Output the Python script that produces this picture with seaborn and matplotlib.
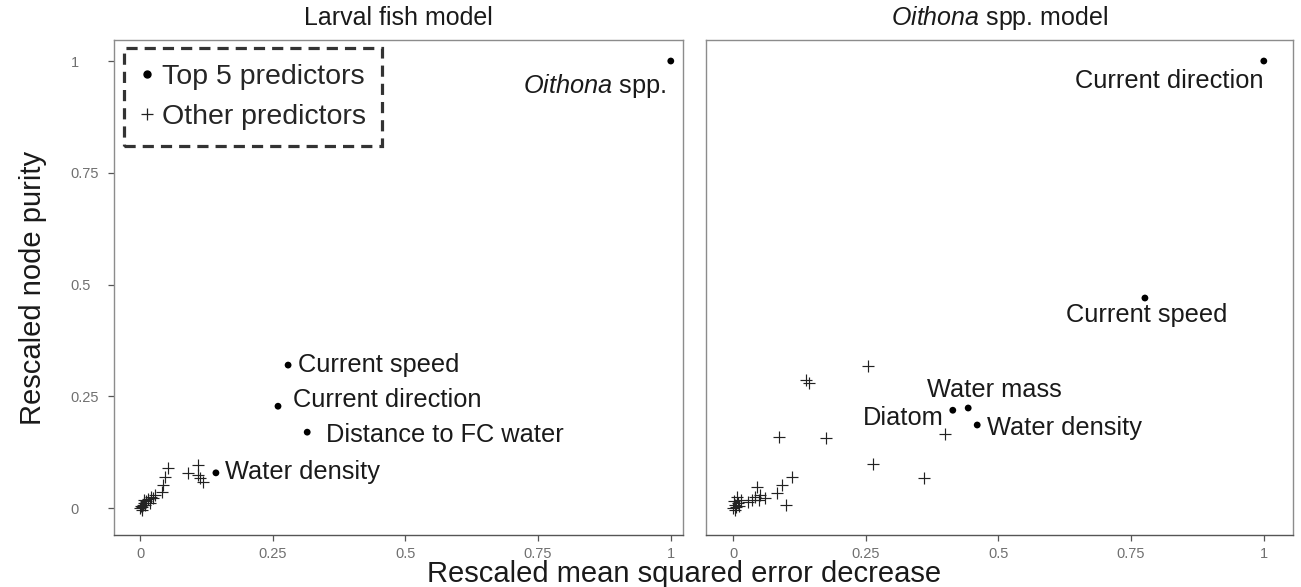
import matplotlib
matplotlib.use("Agg")
import matplotlib.pyplot as plt
import seaborn as sns
import pandas as pd
from matplotlib.lines import Line2D

sns.set_theme(style="white")
plt.rcParams['font.family'] = ['Liberation Sans', 'DejaVu Sans']
plt.rcParams['mathtext.fontset'] = 'custom'
plt.rcParams['mathtext.rm'] = 'Liberation Sans'
plt.rcParams['mathtext.it'] = 'Liberation Sans:italic'

# ---------------- data ----------------
# Larval fish model: top 5 predictors
fish_top_names = [r"$\it{Oithona}$ spp.", "Current speed", "Current direction",
                  "Distance to FC water", "Water density"]
fish_top_x = [1.0, 0.279, 0.260, 0.315, 0.143]
fish_top_y = [1.0, 0.320, 0.228, 0.170, 0.079]
# Larval fish model: other predictors
fish_oth_x = [0.000, 0.002, 0.004, 0.005, 0.007, 0.010, 0.012, 0.015, 0.018, 0.020,
              0.024, 0.028, 0.003, 0.008, 0.041, 0.043, 0.047, 0.053, 0.090, 0.109,
              0.109, 0.113, 0.119]
fish_oth_y = [0.000, 0.004, 0.002, 0.008, 0.012, 0.006, 0.015, 0.020, 0.012, 0.025,
              0.022, 0.030, -0.004, 0.018, 0.036, 0.051, 0.070, 0.089, 0.079, 0.096,
              0.074, 0.067, 0.058]

# Oithona spp. model: top 5 predictors
oit_top_names = ["Current direction", "Current speed", "Water mass", "Diatom", "Water density"]
oit_top_x = [1.0, 0.776, 0.443, 0.414, 0.460]
oit_top_y = [1.0, 0.470, 0.224, 0.219, 0.186]
# Oithona spp. model: other predictors
oit_oth_x = [0.254, 0.137, 0.143, 0.087, 0.175, 0.400, 0.264, 0.360, 0.111, 0.092,
             0.083, 0.100, 0.045, 0.060, 0.041, 0.036, 0.028, 0.008, 0.000, 0.003,
             0.006, 0.010, 0.002, 0.012, 0.004, 0.015, 0.050, 0.048]
oit_oth_y = [0.318, 0.287, 0.280, 0.159, 0.157, 0.165, 0.098, 0.067, 0.070, 0.051,
             0.034, 0.007, 0.047, 0.022, 0.025, 0.018, 0.013, 0.025, 0.000, 0.008,
             0.003, 0.012, 0.016, 0.004, -0.004, 0.018, 0.030, 0.018]

tick_vals = [0, 0.25, 0.5, 0.75, 1]
tick_labels = ["0", "0.25", "0.5", "0.75", "1"]

# label placement (offsets relative to points, in data units) and alignment
fish_lab_dx = [-0.008, 0.018, 0.028, 0.035, 0.017]
fish_lab_dy = [-0.055, 0.000, 0.014, -0.007, 0.001]
fish_lab_ha = ["right", "left", "left", "left", "left"]
oit_lab_dx = [0.000, 0.004, 0.049, -0.017, 0.018]
oit_lab_dy = [-0.045, -0.038, 0.040, -0.018, -0.007]
oit_lab_ha = ["right", "center", "center", "right", "left"]

# ---------------- figure ----------------
W, H = 1301, 587
fig = plt.figure(figsize=(W / 100, H / 100), dpi=100)
ax1 = fig.add_axes([114 / W, (H - 535) / H, 569 / W, 495 / H])
ax2 = fig.add_axes([706 / W, (H - 535) / H, 587 / W, 495 / H])

panels = [
    (ax1, fish_top_names, fish_top_x, fish_top_y, fish_oth_x, fish_oth_y,
     fish_lab_dx, fish_lab_dy, fish_lab_ha, (-0.049, 1.023)),
    (ax2, oit_top_names, oit_top_x, oit_top_y, oit_oth_x, oit_oth_y,
     oit_lab_dx, oit_lab_dy, oit_lab_ha, (-0.051, 1.055)),
]

for ax, names, tx, ty, ox, oy, ldx, ldy, lha, xlim in panels:
    oth = pd.DataFrame({"x": ox, "y": oy})
    top = pd.DataFrame({"x": tx, "y": ty, "name": names})
    sns.scatterplot(data=oth, x="x", y="y", marker="+", s=65, color="#222222",
                    linewidth=0.85, ax=ax, legend=False)
    sns.scatterplot(data=top, x="x", y="y", marker="o", s=24, color="black",
                    edgecolor="none", ax=ax, legend=False)
    for i, row in top.iterrows():
        ax.text(row.x + ldx[i], row.y + ldy[i], row["name"], ha=lha[i], va="center",
                fontsize=18.3, color="#1a1a1a")
    ax.set_xlim(*xlim)
    ax.set_ylim(-0.06, 1.047)
    ax.set_xticks(tick_vals)
    ax.set_xticklabels(tick_labels)
    ax.set_yticks(tick_vals)
    ax.set_yticklabels(tick_labels)
    ax.set_xlabel("")
    ax.set_ylabel("")
    ax.tick_params(axis="both", which="both", length=4.3, width=0.9, color="#555555",
                   labelsize=10.5, labelcolor="#707070", direction="out",
                   bottom=True, left=True)
    ax.tick_params(axis="x", pad=4)
    for sp in ax.spines.values():
        sp.set_color("#8c8c8c")
        sp.set_linewidth(1.0)
    ax.spines["bottom"].set_color("#555555")
    ax.grid(False)

# y tick labels are left-aligned in the reference
ax1.tick_params(axis="y", pad=27)
for lab in ax1.get_yticklabels():
    lab.set_horizontalalignment("left")
ax2.set_yticks([])

fig.text((114 + 683) / 2 / W, 1 - 18 / H, "Larval fish model", ha="center", va="center",
         fontsize=18, color="#1a1a1a")
fig.text((706 + 1293) / 2 / W, 1 - 18 / H, r"$\it{Oithona}$ spp. model", ha="center",
         va="center", fontsize=18, color="#1a1a1a")
fig.text(33 / W, 1 - 288 / H, "Rescaled node purity", rotation=90, ha="center",
         va="center", fontsize=21, color="#1a1a1a")
fig.text(684 / W, 1 - 574 / H, "Rescaled mean squared error decrease", ha="center",
         va="center", fontsize=21, color="#1a1a1a")

handles = [
    Line2D([], [], marker="o", linestyle="none", color="black", markersize=5),
    Line2D([], [], marker="+", linestyle="none", color="#222222", markersize=9,
           markeredgewidth=0.9),
]
leg = ax1.legend(handles, ["Top 5 predictors", "Other predictors"], loc="upper left",
                 bbox_to_anchor=((124 - 114) / 569, (535 - 48) / 495), borderaxespad=0,
                 fontsize=20.5, frameon=True, fancybox=False, handlelength=0.5,
                 handletextpad=0.3, borderpad=0.55, labelspacing=0.5)
frame = leg.get_frame()
frame.set_edgecolor("black")
frame.set_linewidth(2.3)
frame.set_linestyle((0, (3.5, 2.2)))
frame.set_facecolor("white")

fig.savefig("out.png", dpi=100)
